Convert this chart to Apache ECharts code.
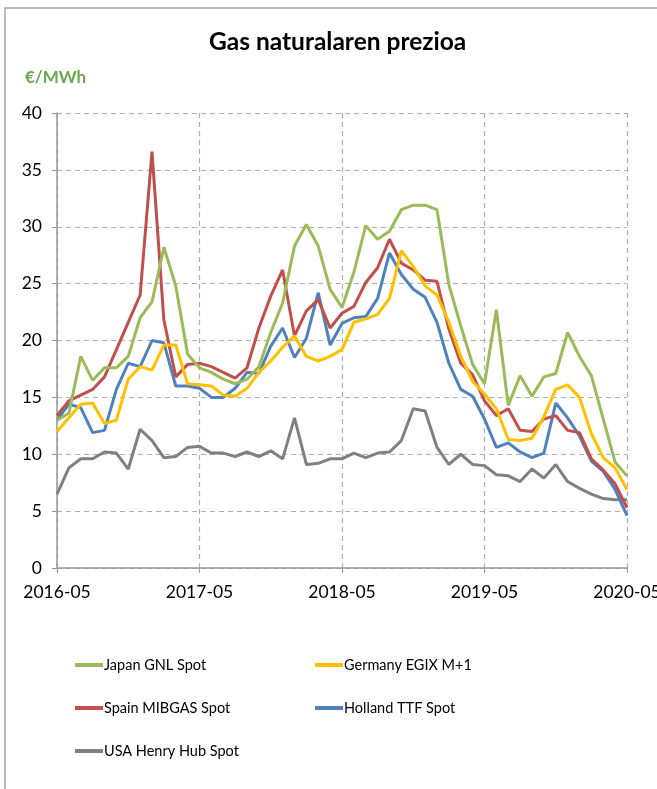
<!DOCTYPE html>
<html>
<head>
<meta charset="utf-8">
<script src="https://cdn.jsdelivr.net/npm/echarts@6/dist/echarts.min.js"></script>
<style>
  html, body { margin: 0; padding: 0; background: #fff; }
  #chart { width: 657px; height: 789px; }
</style>
</head>
<body>
<div id="chart"></div>
<script>
// months 2016-05 .. 2020-05
const months = []
for (let y = 2016, m = 5; y < 2020 || (y === 2020 && m <= 5); m++) {
  if (m > 12) { m = 1; y++ }
  if (y === 2020 && m > 5) break
  months.push(y + '-' + String(m).padStart(2, '0'))
}

const japan = [13.0, 13.6, 18.6, 16.5, 17.6, 17.6, 18.6, 22.0, 23.4, 28.2, 24.8, 18.8,
  17.6, 17.2, 16.6, 16.2, 16.6, 17.7, 20.7, 23.3, 28.3, 30.2, 28.3, 24.5,
  22.9, 26.0, 30.1, 28.9, 29.6, 31.5, 31.9, 31.9, 31.5, 24.9, 21.3, 17.9,
  16.2, 22.7, 14.3, 16.9, 15.1, 16.8, 17.1, 20.7, 18.6, 16.9, 13.1, 9.3, 8.1]
const germany = [12.0, 13.2, 14.4, 14.5, 12.7, 13.0, 16.6, 17.7, 17.4, 19.6, 19.6, 16.2,
  16.1, 16.0, 15.2, 15.1, 15.8, 17.2, 18.2, 19.4, 20.4, 18.6, 18.2, 18.6,
  19.2, 21.6, 21.9, 22.3, 23.7, 27.9, 26.5, 24.8, 24.0, 21.6, 18.6, 16.4,
  15.3, 14.0, 11.3, 11.2, 11.4, 13.3, 15.7, 16.1, 15.0, 11.8, 9.7, 8.8, 6.9]
const spain = [13.4, 14.7, 15.2, 15.7, 16.8, 19.2, 21.6, 24.0, 36.6, 21.8, 16.8, 17.9,
  18.0, 17.7, 17.2, 16.7, 17.6, 21.1, 23.9, 26.2, 20.4, 22.6, 23.6, 21.1,
  22.4, 23.0, 25.1, 26.4, 28.9, 26.8, 26.2, 25.3, 25.2, 21.0, 18.0, 17.0,
  14.7, 13.4, 14.0, 12.1, 12.0, 13.1, 13.4, 12.1, 11.9, 9.6, 8.6, 7.4, 5.3]
const holland = [13.0, 14.4, 14.1, 11.9, 12.1, 15.7, 18.0, 17.7, 20.0, 19.8, 16.0, 16.0,
  15.8, 15.0, 15.0, 15.8, 17.2, 17.1, 19.5, 21.1, 18.5, 20.2, 24.2, 19.6,
  21.5, 22.0, 22.1, 23.7, 27.7, 25.8, 24.5, 23.8, 21.6, 18.0, 15.7, 15.1,
  13.1, 10.6, 11.0, 10.2, 9.7, 10.1, 14.5, 13.2, 11.6, 9.4, 8.5, 6.9, 4.6]
const usa = [6.5, 8.8, 9.6, 9.6, 10.2, 10.1, 8.7, 12.2, 11.2, 9.7, 9.8, 10.6,
  10.7, 10.1, 10.1, 9.8, 10.2, 9.8, 10.3, 9.6, 13.2, 9.1, 9.2, 9.6,
  9.6, 10.1, 9.7, 10.1, 10.2, 11.2, 14.0, 13.8, 10.6, 9.1, 10.0, 9.1,
  9.0, 8.2, 8.1, 7.6, 8.7, 7.9, 9.1, 7.6, 7.0, 6.5, 6.1, 6.0, 6.0]

const seriesNames = ['Japan GNL Spot', 'Germany EGIX M+1', 'Spain MIBGAS Spot', 'Holland TTF Spot', 'USA Henry Hub Spot']
const seriesData = [japan, germany, spain, holland, usa]
const seriesColors = ['#9BBB59', '#FFC000', '#C0504D', '#4F81BD', '#808080']

const chart = echarts.init(document.getElementById('chart'))

const font = 'Lato, "Open Sans", sans-serif'

const legendBase = {
  top: 651,
  orient: 'vertical',
  icon: 'rect',
  itemGap: 25,
  itemWidth: 28,
  itemHeight: 4,
  textStyle: { fontFamily: font, fontSize: 14.5, color: '#000', padding: [0, 0, 0, -4], lineHeight: 18 }
}

const option = {
  animation: false,
  textStyle: { fontFamily: font },
  title: {
    text: 'Gas naturalaren prezioa',
    left: 204,
    top: 25,
    textStyle: { fontFamily: font, fontSize: 24.5, fontWeight: 'bold', color: '#000' }
  },
  graphic: [
    {
      type: 'rect',
      shape: { x: 5, y: 8, width: 800, height: 900 },
      style: { fill: 'none', stroke: '#a6a6a6', lineWidth: 1.5 },
      silent: true
    },
    {
      type: 'text',
      left: 25,
      top: 69,
      style: { text: '€/MWh', fill: '#6aa84f', font: 'bold 17px ' + font }
    }
  ],
  legend: [
    Object.assign({ left: 70, data: ['Japan GNL Spot', 'Spain MIBGAS Spot', 'USA Henry Hub Spot'] }, legendBase),
    Object.assign({ left: 310, data: ['Germany EGIX M+1', 'Holland TTF Spot'] }, legendBase)
  ],
  grid: { left: 57, right: 30, top: 113, bottom: 221, outerBoundsMode: 'none' },
  xAxis: {
    type: 'category',
    data: months,
    boundaryGap: false,
    axisLine: { lineStyle: { color: '#999', width: 1.5 } },
    axisTick: { interval: 11, length: 5, lineStyle: { color: '#999' } },
    axisLabel: { interval: 11, margin: 15, fontSize: 17.5, color: '#000', fontFamily: font },
    splitLine: { show: true, interval: 11, lineStyle: { color: '#b0b0b0', type: [5, 4], width: 1.2 } }
  },
  yAxis: {
    type: 'value',
    min: 0,
    max: 40,
    interval: 5,
    axisLine: { show: true, lineStyle: { color: '#999', width: 1.5 } },
    axisTick: { show: true, length: 5, lineStyle: { color: '#999' } },
    axisLabel: { margin: 15, fontSize: 17.5, color: '#000', fontFamily: font },
    splitLine: { lineStyle: { color: '#b0b0b0', type: [5, 4], width: 1.2 } }
  },
  series: seriesNames.map((name, i) => ({
    name: name,
    type: 'line',
    data: seriesData[i],
    symbol: 'none',
    color: seriesColors[i],
    lineStyle: { width: 3, color: seriesColors[i] },
    z: 10 - i
  }))
}

chart.setOption(option)
</script>
</body>
</html>
